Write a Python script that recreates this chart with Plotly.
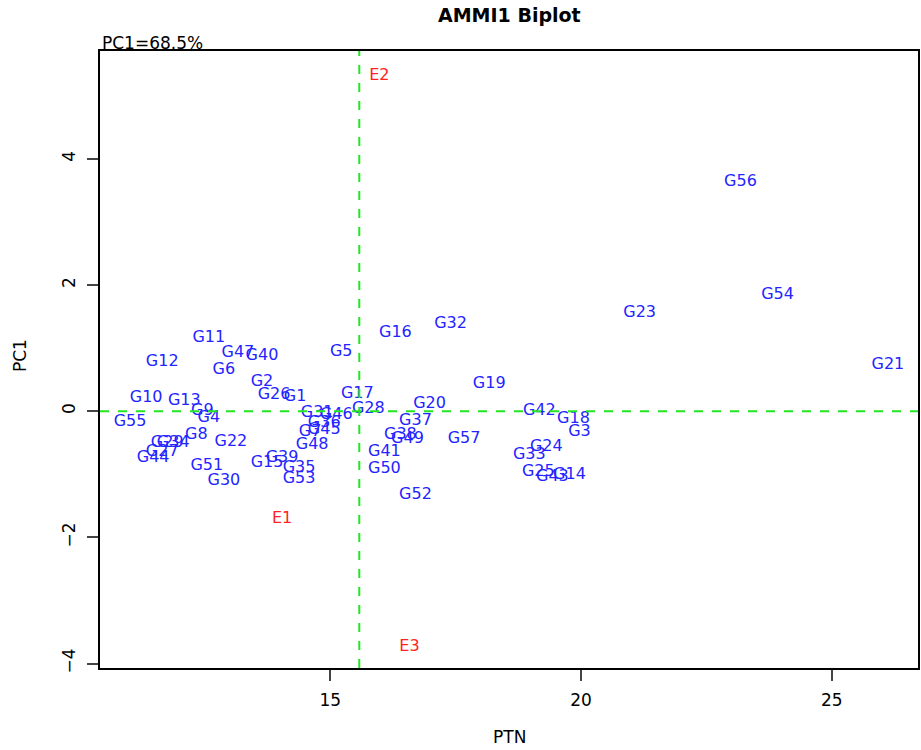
import plotly.graph_objects as go

# Genotype scores: mean PTN and first interaction principal component
genotypes = ["G1", "G2", "G3", "G4", "G5", "G6", "G7", "G8", "G9", "G10",
             "G11", "G12", "G13", "G14", "G15", "G16", "G17", "G18", "G19", "G20",
             "G21", "G22", "G23", "G24", "G25", "G26", "G27", "G28", "G29", "G30",
             "G31", "G32", "G33", "G34", "G35", "G36", "G37", "G38", "G39", "G40",
             "G41", "G42", "G43", "G44", "G45", "G46", "G47", "G48", "G49", "G50",
             "G51", "G52", "G53", "G54", "G55", "G56", "G57"]
geno_ptn = [14.30, 13.64, 19.97, 12.58, 15.22, 12.88, 14.60, 12.33, 12.45, 11.33,
            12.58, 11.65, 12.09, 19.77, 13.74, 16.30, 15.54, 19.85, 18.17, 16.98,
            26.12, 13.02, 21.17, 19.31, 19.15, 13.88, 11.65, 15.76, 11.75, 12.88,
            14.74, 17.40, 18.97, 11.87, 14.38, 14.88, 16.70, 16.40, 14.04, 13.64,
            16.08, 19.17, 19.43, 11.47, 14.88, 15.12, 13.16, 14.64, 16.54, 16.08,
            12.54, 16.70, 14.38, 23.92, 11.01, 23.18, 17.67]
geno_pc1 = [0.22, 0.46, -0.33, -0.10, 0.94, 0.65, -0.33, -0.38, 0.00, 0.21,
            1.16, 0.78, 0.17, -1.01, -0.82, 1.24, 0.27, -0.13, 0.43, 0.11,
            0.73, -0.48, 1.55, -0.57, -0.97, 0.25, -0.65, 0.03, -0.51, -1.11,
            -0.03, 1.39, -0.70, -0.51, -0.90, -0.19, -0.16, -0.38, -0.74, 0.87,
            -0.65, 0.00, -1.05, -0.74, -0.30, -0.06, 0.92, -0.54, -0.44, -0.92,
            -0.87, -1.32, -1.08, 1.85, -0.17, 3.63, -0.44]

# Environment scores
environments = ["E1", "E2", "E3"]
env_ptn = [14.04, 15.98, 16.58]
env_pc1 = [-1.71, 5.31, -3.74]

grand_mean = 15.58
pc1_share = "PC1=68.5%"

x_ticks = [15, 20, 25]
y_ticks = [-4, -2, 0, 2, 4]

FONT = "DejaVu Sans, Liberation Sans, Arial, sans-serif"
GENO_COLOR = "#2424ff"
ENV_COLOR = "#ff2222"
REF_COLOR = "#22e622"

fig = go.Figure()

fig.add_trace(go.Scatter(
    x=geno_ptn, y=geno_pc1, mode="text", text=genotypes,
    textposition="middle center",
    textfont=dict(family=FONT, size=16, color=GENO_COLOR),
    showlegend=False, hoverinfo="text",
))
fig.add_trace(go.Scatter(
    x=env_ptn, y=env_pc1, mode="text", text=environments,
    textposition="middle center",
    textfont=dict(family=FONT, size=16, color=ENV_COLOR),
    showlegend=False, hoverinfo="text",
))

# Reference lines: PC1 = 0 and the grand mean
fig.add_hline(y=0, line=dict(color=REF_COLOR, width=2, dash="dash"))
fig.add_vline(x=grand_mean, line=dict(color=REF_COLOR, width=2, dash="dash"))

fig.update_layout(
    width=921, height=750,
    margin=dict(l=100, r=3, t=51, b=82, autoexpand=False),
    paper_bgcolor="white", plot_bgcolor="white",
    font=dict(family=FONT, size=16, color="black"),
    annotations=[
        dict(text="<b>AMMI1 Biplot</b>", xref="paper", yref="paper",
             x=0.5, y=1.058, xanchor="center", yanchor="middle",
             showarrow=False, font=dict(size=19, family=FONT)),
        dict(text=pc1_share, xref="paper", yref="paper", x=0, y=1.013,
             xanchor="left", yanchor="middle", showarrow=False,
             font=dict(size=17, family=FONT)),
        dict(text="PTN", xref="paper", yref="paper", x=0.5, y=-0.112,
             xanchor="center", yanchor="middle", showarrow=False,
             font=dict(size=17, family=FONT)),
        dict(text="PC1", xref="paper", yref="paper", x=-0.098, y=0.507,
             xanchor="center", yanchor="middle", textangle=-90,
             showarrow=False, font=dict(size=17, family=FONT)),
    ],
)

fig.update_xaxes(
    range=[10.41, 26.72], tickvals=x_ticks, ticks="outside", ticklen=11,
    tickwidth=1.5, showline=True, linecolor="black", linewidth=1.5, mirror=True,
    showgrid=False, zeroline=False, tickfont=dict(size=17),
    ticklabelstandoff=5, automargin=False,
)
fig.update_yaxes(
    range=[-4.07, 5.71], tickvals=y_ticks, ticks="outside", ticklen=11,
    tickwidth=1.5, showline=True, linecolor="black", linewidth=1.5, mirror=True,
    showgrid=False, zeroline=False, tickangle=-90, tickfont=dict(size=17),
    ticklabelstandoff=5, automargin=False,
)

fig.write_html("out.html")
